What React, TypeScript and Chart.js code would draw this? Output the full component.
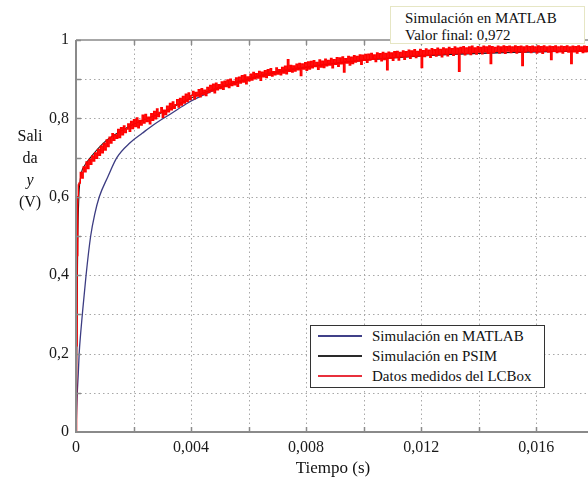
import React, { useEffect, useRef } from "react";
import { Chart, registerables } from "chart.js";

Chart.register(...registerables);

// ---------- data ----------
const X_TICKS = [0, 0.002, 0.004, 0.006, 0.008, 0.01, 0.012, 0.014, 0.016];
const Y_TICKS = [0, 0.1, 0.2, 0.3, 0.4, 0.5, 0.6, 0.7, 0.8, 0.9, 1.0];
const X_MAX = 0.0178;
const Y_MAX = 1.0;

const matlabT = [0, 0.00002, 0.000045, 0.00008, 0.00011, 0.00016, 0.00022, 0.00035, 0.00051, 0.00065, 0.00081, 0.0011, 0.00142, 0.00188, 0.0023, 0.0027, 0.0033, 0.0039, 0.0045, 0.005, 0.0057, 0.0068, 0.0082, 0.0096, 0.011, 0.0127, 0.0145, 0.016, 0.0178];
const matlabY = [0, 0.05, 0.1, 0.15, 0.2, 0.25, 0.3, 0.4, 0.5, 0.555, 0.6, 0.65, 0.7, 0.738, 0.762, 0.784, 0.812, 0.84, 0.862, 0.878, 0.895, 0.917, 0.933, 0.946, 0.955, 0.963, 0.967, 0.97, 0.972];

const psimT = [0, 0.00002, 0.00004, 0.00006, 0.0001, 0.00015, 0.0002, 0.0003, 0.0005, 0.001, 0.0015, 0.002, 0.003, 0.004, 0.005, 0.006, 0.007, 0.008, 0.009, 0.01, 0.011, 0.012, 0.013, 0.014, 0.015, 0.016, 0.017, 0.0178];
const psimY = [0, 0.15, 0.32, 0.48, 0.6, 0.645, 0.665, 0.68, 0.7, 0.74, 0.765, 0.785, 0.815, 0.852, 0.88, 0.9, 0.917, 0.93, 0.94, 0.948, 0.954, 0.959, 0.963, 0.966, 0.968, 0.97, 0.971, 0.972];

const redEarlyT = [0, 0.00002, 0.00004, 0.00006, 0.00008];
const redEarlyY = [0, 0.22, 0.45, 0.6, 0.63];
const RED_T0 = 0.0001;
const RED_DT = 0.00005;
const redY = [
  0.635, 0.662, 0.648, 0.676, 0.664, 0.689, 0.672, 0.695, 0.683, 0.704,
  0.691, 0.712, 0.698, 0.721, 0.706, 0.729, 0.712, 0.736, 0.719, 0.745,
  0.728, 0.752, 0.737, 0.761, 0.744, 0.758, 0.749, 0.772, 0.751, 0.776,
  0.758, 0.781, 0.764, 0.773, 0.786, 0.767, 0.792, 0.774, 0.797, 0.779,
  0.801, 0.776, 0.795, 0.783, 0.808, 0.788, 0.81, 0.792, 0.803, 0.786,
  0.812, 0.795, 0.818, 0.799, 0.824, 0.805, 0.815, 0.827, 0.803, 0.821,
  0.81, 0.831, 0.817, 0.838, 0.822, 0.842, 0.826, 0.835, 0.848, 0.829,
  0.851, 0.834, 0.856, 0.839, 0.862, 0.843, 0.865, 0.848, 0.858, 0.869,
  0.85, 0.866, 0.857, 0.873, 0.855, 0.876, 0.861, 0.872, 0.858, 0.879,
  0.866, 0.884, 0.87, 0.887, 0.865, 0.89, 0.873, 0.886, 0.876, 0.893,
  0.874, 0.895, 0.881, 0.898, 0.879, 0.9, 0.884, 0.894, 0.886, 0.903,
  0.882, 0.905, 0.89, 0.909, 0.893, 0.911, 0.888, 0.906, 0.896, 0.913,
  0.898, 0.917, 0.901, 0.914, 0.903, 0.92, 0.897, 0.918, 0.906, 0.922,
  0.904, 0.924, 0.91, 0.927, 0.908, 0.919, 0.911, 0.929, 0.913, 0.924,
  0.911, 0.93, 0.916, 0.933, 0.914, 0.95, 0.92, 0.935, 0.918, 0.934,
  0.921, 0.938, 0.924, 0.94, 0.909, 0.939, 0.926, 0.942, 0.923, 0.944,
  0.926, 0.945, 0.929, 0.947, 0.932, 0.943, 0.925, 0.949, 0.931, 0.946,
  0.93, 0.951, 0.934, 0.948, 0.936, 0.953, 0.929, 0.95, 0.938, 0.955,
  0.933, 0.954, 0.939, 0.957, 0.918, 0.952, 0.941, 0.958, 0.936, 0.956,
  0.94, 0.96, 0.944, 0.958, 0.946, 0.962, 0.938, 0.961, 0.948, 0.963,
  0.943, 0.964, 0.949, 0.966, 0.951, 0.962, 0.945, 0.967, 0.952, 0.965,
  0.947, 0.968, 0.95, 0.966, 0.924, 0.969, 0.953, 0.967, 0.948, 0.97,
  0.955, 0.971, 0.949, 0.968, 0.957, 0.972, 0.951, 0.97, 0.958, 0.974,
  0.953, 0.972, 0.959, 0.975, 0.955, 0.971, 0.96, 0.976, 0.93, 0.973,
  0.958, 0.977, 0.961, 0.974, 0.956, 0.978, 0.962, 0.975, 0.959, 0.979,
  0.963, 0.976, 0.957, 0.98, 0.964, 0.977, 0.96, 0.981, 0.966, 0.978,
  0.961, 0.982, 0.965, 0.979, 0.92, 0.981, 0.967, 0.983, 0.962, 0.98,
  0.966, 0.982, 0.963, 0.984, 0.968, 0.98, 0.964, 0.983, 0.969, 0.981,
  0.965, 0.984, 0.97, 0.982, 0.966, 0.985, 0.94, 0.983, 0.968, 0.981,
  0.971, 0.984, 0.967, 0.982, 0.97, 0.985, 0.966, 0.983, 0.972, 0.984,
  0.968, 0.982, 0.971, 0.985, 0.967, 0.983, 0.97, 0.984, 0.935, 0.982,
  0.969, 0.985, 0.972, 0.983, 0.968, 0.984, 0.971, 0.982, 0.967, 0.985,
  0.97, 0.983, 0.966, 0.985, 0.972, 0.982, 0.969, 0.984, 0.95, 0.983,
  0.971, 0.985, 0.968, 0.982, 0.97, 0.984, 0.967, 0.983, 0.972, 0.985,
  0.969, 0.982, 0.94, 0.984, 0.97, 0.983, 0.967, 0.985, 0.971, 0.982,
  0.968, 0.984, 0.97, 0.983, 0.969,
];

const SERIES_NAMES = ["Simulación en MATLAB", "Simulación en PSIM", "Datos medidos del LCBox"];
const SERIES_COLORS = ["#3c3c82", "#1c1c1c", "#ff0000"];
const LEGEND_LINE_COLORS = ["#404088", "#2a2a2a", "#e8303c"];
const ANNOT_LINES = ["Simulación en MATLAB", "Valor final: 0,972"];
const X_TITLE = "Tiempo (s)";

const FONT = "'Liberation Serif', 'Times New Roman', serif";

function fmt(v: number) {
  const s = String(parseFloat(v.toFixed(4)));
  return s.replace(".", ",");
}

const framePlugin = {
  id: "frame",
  beforeDatasetsDraw(chart: any) {
    const { ctx, chartArea, scales } = chart;
    const { left, right, top, bottom } = chartArea;
    ctx.save();
    ctx.strokeStyle = "#a8a8a8";
    ctx.lineWidth = 1;
    ctx.setLineDash([1.5, 3]);
    for (const v of X_TICKS) {
      if (v === 0) continue;
      const x = Math.round(scales.x.getPixelForValue(v)) + 0.5;
      ctx.beginPath();
      ctx.moveTo(x, top);
      ctx.lineTo(x, bottom);
      ctx.stroke();
    }
    for (const v of Y_TICKS) {
      if (v === 0 || v === 1) continue;
      const y = Math.round(scales.y.getPixelForValue(v)) + 0.5;
      ctx.beginPath();
      ctx.moveTo(left, y);
      ctx.lineTo(right, y);
      ctx.stroke();
    }
    ctx.restore();
  },
  afterDatasetsDraw(chart: any) {
    const { ctx, chartArea, scales } = chart;
    const { left, right, top, bottom } = chartArea;
    ctx.save();
    ctx.setLineDash([]);
    ctx.strokeStyle = "#8a8a8a";
    ctx.lineWidth = 2;
    ctx.beginPath();
    ctx.moveTo(left, top);
    ctx.lineTo(left, bottom);
    ctx.lineTo(right, bottom);
    ctx.stroke();
    ctx.lineWidth = 1.5;
    ctx.beginPath();
    ctx.moveTo(left, top);
    ctx.lineTo(right, top);
    ctx.stroke();
    for (const v of X_TICKS) {
      if (v === 0) continue;
      const x = Math.round(scales.x.getPixelForValue(v)) + 0.5;
      ctx.beginPath();
      ctx.moveTo(x, bottom);
      ctx.lineTo(x, bottom - 5);
      ctx.moveTo(x, top);
      ctx.lineTo(x, top + 5);
      ctx.stroke();
    }
    for (const v of Y_TICKS) {
      if (v === 0) continue;
      const y = Math.round(scales.y.getPixelForValue(v)) + 0.5;
      ctx.beginPath();
      ctx.moveTo(left, y);
      ctx.lineTo(left + 5, y);
      ctx.stroke();
    }
    ctx.restore();
  },
};

export default function App() {
  const canvasRef = useRef<HTMLCanvasElement | null>(null);

  useEffect(() => {
    const canvas = canvasRef.current;
    if (!canvas) return;
    const redData = redEarlyT.map((t, i) => ({ x: t, y: redEarlyY[i] })).concat(
      redY.map((v, i) => ({ x: RED_T0 + i * RED_DT, y: v }))
    );
    const chart = new Chart(canvas, {
      type: "line",
      data: {
        datasets: [
          {
            label: SERIES_NAMES[0],
            data: matlabT.map((t, i) => ({ x: t, y: matlabY[i] })),
            borderColor: SERIES_COLORS[0],
            borderWidth: 1.3,
            pointRadius: 0,
            cubicInterpolationMode: "monotone",
            order: 3,
          },
          {
            label: SERIES_NAMES[1],
            data: psimT.map((t, i) => ({ x: t, y: psimY[i] })),
            borderColor: SERIES_COLORS[1],
            borderWidth: 1.1,
            pointRadius: 0,
            cubicInterpolationMode: "monotone",
            order: 2,
          },
          {
            label: SERIES_NAMES[2],
            data: redData,
            borderColor: SERIES_COLORS[2],
            borderWidth: 1.4,
            pointRadius: 0,
            stepped: "before",
            order: 1,
          },
        ],
      } as any,
      options: {
        animation: false,
        responsive: false,
        devicePixelRatio: 1,
        events: [],
        layout: { padding: { top: 40, right: 0, left: 0, bottom: 0 } },
        plugins: { legend: { display: false }, tooltip: { enabled: false } },
        scales: {
          x: {
            type: "linear",
            min: 0,
            max: X_MAX,
            afterBuildTicks: (s: any) => {
              s.ticks = X_TICKS.map((v) => ({ value: v }));
            },
            afterFit: (s: any) => {
              s.height = 46;
            },
            grid: { display: false, drawTicks: false },
            border: { display: false },
            ticks: {
              autoSkip: false,
              maxRotation: 0,
              padding: 6,
              color: "#1a1a1a",
              font: { family: FONT, size: 16 },
              callback: (v: any) => {
                const r = Math.round((v as number) / 0.004);
                return Math.abs((v as number) - r * 0.004) < 1e-9 ? fmt(v as number) : "";
              },
            },
          },
          y: {
            type: "linear",
            min: 0,
            max: Y_MAX,
            afterBuildTicks: (s: any) => {
              s.ticks = Y_TICKS.map((v) => ({ value: v }));
            },
            afterFit: (s: any) => {
              s.width = 76;
            },
            grid: { display: false, drawTicks: false },
            border: { display: false },
            ticks: {
              autoSkip: false,
              padding: 7,
              color: "#1a1a1a",
              font: { family: FONT, size: 16 },
              callback: (v: any) => {
                const r = Math.round((v as number) / 0.2);
                return Math.abs((v as number) - r * 0.2) < 1e-9 ? fmt(v as number) : "";
              },
            },
          },
        },
      } as any,
      plugins: [framePlugin],
    });
    return () => chart.destroy();
  }, []);

  const text: React.CSSProperties = {
    position: "absolute",
    fontFamily: FONT,
    fontSize: 15,
    color: "#111",
    whiteSpace: "nowrap",
  };

  return (
    <div style={{ position: "fixed", left: 0, top: 0, width: 588, height: 478, background: "#fff" }}>
      <canvas ref={canvasRef} width={588} height={478} style={{ display: "block", width: 588, height: 478 }} />
      {/* y axis title */}
      <div style={{ ...text, fontSize: 16, left: 0, top: 125, width: 60, textAlign: "center", lineHeight: "22px" }}>
        <div>Sali</div>
        <div>da</div>
        <div><i>y</i></div>
        <div>(V)</div>
      </div>
      {/* x axis title */}
      <div style={{ ...text, fontSize: 17, left: 233, top: 458, width: 200, textAlign: "center", lineHeight: "20px" }}>{X_TITLE}</div>
      {/* annotation */}
      <div
        style={{
          position: "absolute",
          left: 390,
          top: 6,
          width: 195,
          height: 38,
          border: "1px solid #e6e6c4",
          background: "#fff",
          boxSizing: "border-box",
        }}
      >
        <div style={{ ...text, left: 14, top: 3, lineHeight: "17px" }}>{ANNOT_LINES[0]}</div>
        <div style={{ ...text, left: 14, top: 20, lineHeight: "17px" }}>{ANNOT_LINES[1]}</div>
      </div>
      {/* legend */}
      <div
        style={{
          position: "absolute",
          left: 310,
          top: 325,
          width: 235,
          height: 63,
          border: "1.5px solid #333",
          background: "#fff",
          boxSizing: "border-box",
        }}
      >
        {[0, 1, 2].map((i) => (
          <React.Fragment key={i}>
            <div
              style={{
                position: "absolute",
                left: 7,
                top: 9 + i * 20,
                width: 44,
                height: 1.5,
                background: LEGEND_LINE_COLORS[i],
              }}
            />
            <div style={{ ...text, left: 61, top: 1 + i * 20, lineHeight: "18px" }}>{SERIES_NAMES[i]}</div>
          </React.Fragment>
        ))}
      </div>
    </div>
  );
}
